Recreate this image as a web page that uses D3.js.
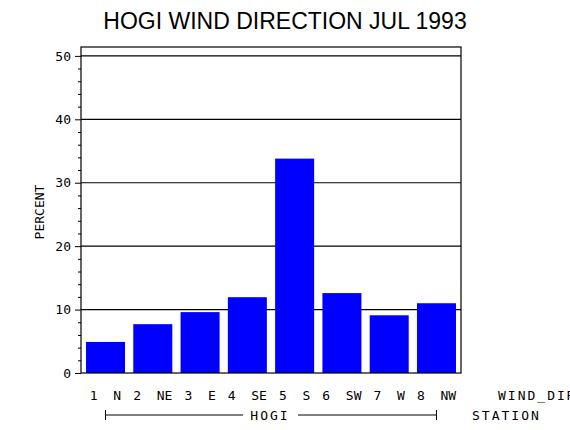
<!DOCTYPE html>
<html>
<head>
<meta charset="utf-8">
<script src="https://cdn.jsdelivr.net/npm/d3@7"></script>
<style>
  body { margin: 0; background: #fff; }
  text { font-family: "DejaVu Sans Mono", monospace; fill: #000; }
</style>
</head>
<body>
<svg id="chart" width="570" height="430"></svg>
<script>
// DATA
const categories = ["1 N", "2 NE", "3 E", "4 SE", "5 S", "6 SW", "7 W", "8 NW"];
const percents = [4.9, 7.7, 9.6, 11.95, 33.8, 12.6, 9.1, 11.0];
const yTicks = [0, 10, 20, 30, 40, 50];
const stationName = "HOGI";

const svg = d3.select("#chart");
const plotLeft = 81, plotRight = 461, plotTop = 47, plotBottom = 373;

const x = d3.scaleBand().domain(categories).range([plotLeft, plotRight])
  .paddingInner(0.175).paddingOuter(0.106);
const y = d3.scaleLinear().domain([0, 51.4]).range([plotBottom, plotTop]);

// title
svg.append("text").attr("x", 285).attr("y", 29).attr("text-anchor", "middle")
  .style("font-family", "'Liberation Sans', Arial, sans-serif")
  .style("font-size", "23px").text("HOGI WIND DIRECTION JUL 1993");

// grid lines
svg.selectAll(".grid").data(yTicks.filter(d => d > 0)).join("line")
  .attr("x1", plotLeft).attr("x2", plotRight)
  .attr("y1", d => y(d)).attr("y2", d => y(d))
  .attr("stroke", "#000").attr("stroke-width", 1.2);

// bars
svg.selectAll(".bar").data(percents).join("rect")
  .attr("x", (d, i) => x(categories[i]))
  .attr("width", x.bandwidth())
  .attr("y", d => y(d))
  .attr("height", d => y(0) - y(d))
  .attr("fill", "#0000ff");

// frame
svg.append("rect").attr("x", plotLeft).attr("y", plotTop)
  .attr("width", plotRight - plotLeft).attr("height", plotBottom - plotTop)
  .attr("fill", "none").attr("stroke", "#000").attr("stroke-width", 1.2);

// y axis
const yAxis = svg.append("g").attr("transform", `translate(${plotLeft},0)`)
  .call(d3.axisLeft(y).tickValues(yTicks).tickSize(6).tickPadding(4));
yAxis.select(".domain").remove();
yAxis.selectAll("text").style("font-size", "13px").style("font-family", "'DejaVu Sans Mono', monospace");
svg.append("g").attr("transform", `translate(${plotLeft},0)`)
  .call(d3.axisLeft(y).tickValues(d3.range(0, 51, 2).filter(d => d % 10)).tickSize(3).tickFormat(""))
  .select(".domain").remove();

svg.append("text").attr("transform", "translate(44,212) rotate(-90)")
  .attr("text-anchor", "middle").style("font-size", "13px").text("PERCENT");

// category labels
svg.selectAll(".cat").data(categories).join("text")
  .attr("x", d => x(d) + x.bandwidth() / 2).attr("y", 400)
  .attr("text-anchor", "middle").style("font-size", "13px")
  .attr("xml:space", "preserve").text(d => d.replace(" ", "  "));
svg.append("text").attr("x", 498).attr("y", 400).style("font-size", "13px")
  .attr("letter-spacing", "2").text("WIND_DIR");

// station bracket
const bx1 = x(categories[0]) + x.bandwidth() / 2, bx2 = x(categories[7]) + x.bandwidth() / 2;
const by = 415;
svg.append("line").attr("x1", bx1).attr("x2", 243).attr("y1", by).attr("y2", by).attr("stroke", "#000");
svg.append("line").attr("x1", 298).attr("x2", bx2).attr("y1", by).attr("y2", by).attr("stroke", "#000");
[bx1, bx2].forEach(bx => svg.append("line").attr("x1", bx).attr("x2", bx)
  .attr("y1", by - 5).attr("y2", by + 5).attr("stroke", "#000"));
svg.append("text").attr("x", 270).attr("y", 420).attr("text-anchor", "middle")
  .style("font-size", "13px").attr("letter-spacing", "2").text(stationName);
svg.append("text").attr("x", 472).attr("y", 420).style("font-size", "13px")
  .attr("letter-spacing", "2").text("STATION");
</script>
</body>
</html>
